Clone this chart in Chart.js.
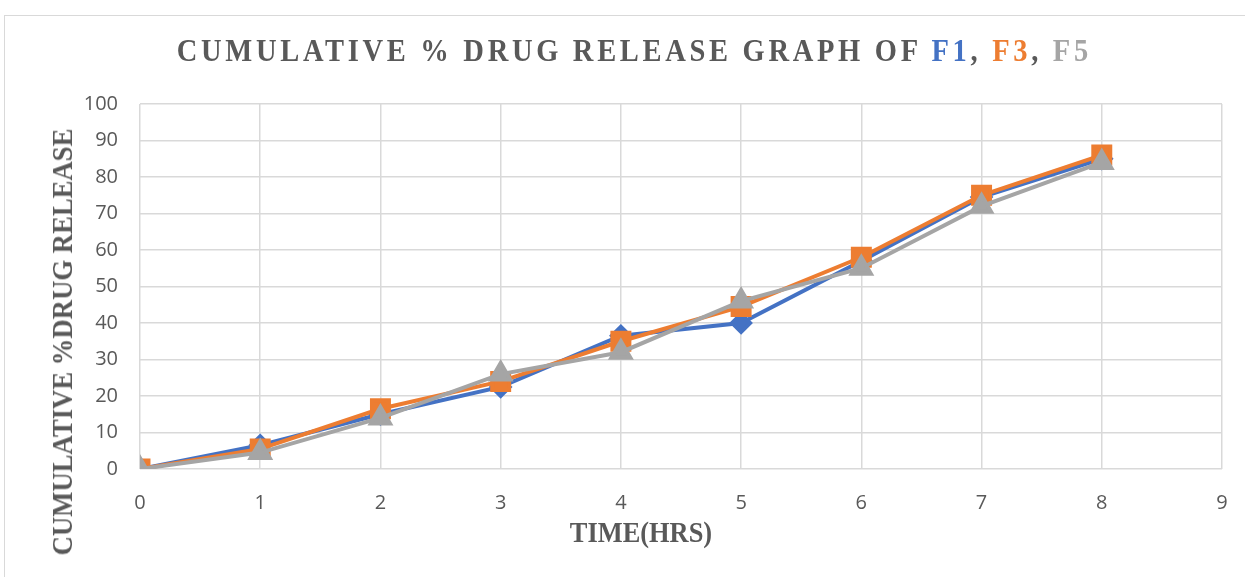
<!DOCTYPE html>
<html>
<head>
<meta charset="utf-8">
<script src="https://cdn.jsdelivr.net/npm/chart.js@4"></script>
<style>
  html, body { margin: 0; padding: 0; background: #fff; }
  #wrap { position: relative; width: 1245px; height: 577px; overflow: hidden; background: #fff; }
  #frame { position: absolute; left: 4px; top: 15px; width: 1300px; height: 650px; border: 1.5px solid #d9d9d9; box-sizing: border-box; }
  #chart { position: absolute; left: 0; top: 0; }
  .ttl { position: absolute; font-family: "Liberation Serif", "Times New Roman", serif; font-weight: bold; color: #595959; white-space: nowrap; }
  #title { left: 0; width: 1245px; top: 33px; text-align: center; font-size: 31px; letter-spacing: 4px; padding-left: 24px; box-sizing: border-box; }
  #title span.in { display: inline-block; transform: scaleX(0.92); transform-origin: center; }
  #ytitle { left: 62px; top: 342px; font-size: 30px; transform: translate(-50%, -50%) rotate(-90deg) scaleX(0.89); }
  #xtitle { left: 641px; top: 532px; font-size: 30px; transform: translate(-50%, -50%) scaleX(0.88); }
  .f1 { color: #4472C4; } .f3 { color: #ED7D31; } .f5 { color: #A5A5A5; }
</style>
</head>
<body>
<div id="wrap">
  <div id="frame"></div>
  <canvas id="chart" width="1245" height="577"></canvas>
  <div id="title" class="ttl"><span class="in">CUMULATIVE % DRUG RELEASE GRAPH OF <span class="f1">F1</span>, <span class="f3">F3</span>, <span class="f5">F5</span></span></div>
  <div id="ytitle" class="ttl">CUMULATIVE %DRUG RELEASE</div>
  <div id="xtitle" class="ttl">TIME(HRS)</div>
</div>
<script>
// Sampling times (hours) and cumulative % drug release per formulation
const hours = [0, 1, 2, 3, 4, 5, 6, 7, 8];
const f1 = [0, 6.5, 15, 22.5, 36.5, 40, 57, 74.5, 85];
const f3 = [0, 5.5, 16.5, 24, 35, 44.5, 58, 75, 86];
const f5 = [0, 4.5, 14, 26, 32, 46, 55, 72, 84];
const xTicks = [0, 1, 2, 3, 4, 5, 6, 7, 8, 9];
const yTicks = [0, 10, 20, 30, 40, 50, 60, 70, 80, 90, 100];

const toPoints = (vals) => vals.map((v, i) => ({ x: hours[i], y: v }));

const gridColor = '#d9d9d9';
const tickFont = { family: '"Open Sans", "Liberation Sans", sans-serif', size: 20 };

new Chart(document.getElementById('chart'), {
  type: 'line',
  data: {
    datasets: [
      { label: 'F5', data: toPoints(f5), borderColor: '#A5A5A5', backgroundColor: '#A5A5A5',
        pointStyle: 'triangle', pointRadius: 11, borderWidth: 4, order: 0 },
      { label: 'F3', data: toPoints(f3), borderColor: '#ED7D31', backgroundColor: '#ED7D31',
        pointStyle: 'rect', pointRadius: 12, borderWidth: 4, order: 1 },
      { label: 'F1', data: toPoints(f1), borderColor: '#4472C4', backgroundColor: '#4472C4',
        pointStyle: 'rectRot', pointRadius: 9, borderWidth: 4, order: 2 }
    ]
  },
  options: {
    responsive: false,
    animation: false,
    events: [],
    layout: { autoPadding: false, padding: { left: 0, top: 104, right: 23, bottom: 0 } },
    elements: { line: { tension: 0 }, point: { borderWidth: 0 } },
    plugins: { legend: { display: false }, title: { display: false }, tooltip: { enabled: false } },
    scales: {
      x: {
        type: 'linear', min: 0, max: 9,
        afterFit: (s) => { s.height = 108; s.paddingLeft = 0; s.paddingRight = 0; },
        afterBuildTicks: (s) => { s.ticks = xTicks.map(v => ({ value: v })); },
        grid: { color: gridColor, lineWidth: 1.5, drawTicks: false },
        border: { display: false },
        ticks: { color: '#595959', font: tickFont, padding: 22 }
      },
      y: {
        min: 0, max: 100,
        afterFit: (s) => { s.width = 140; },
        afterBuildTicks: (s) => { s.ticks = yTicks.map(v => ({ value: v })); },
        grid: { color: gridColor, lineWidth: 1.5, drawTicks: false },
        border: { display: false },
        ticks: { color: '#595959', font: tickFont, padding: 22 }
      }
    }
  }
});
</script>
</body>
</html>
